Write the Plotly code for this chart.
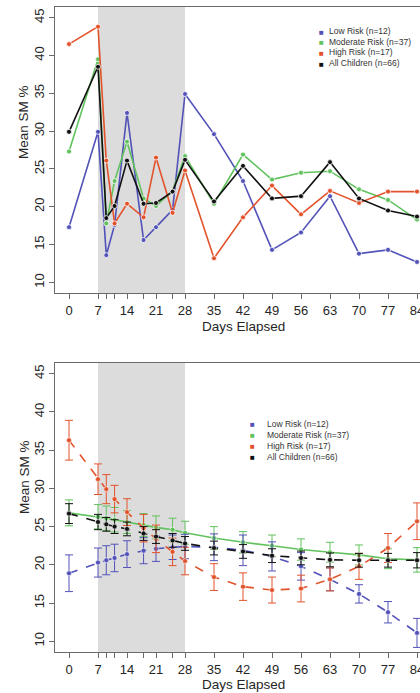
import plotly.graph_objects as go

# ---------------- data ----------------
days = [0, 7, 9, 11, 14, 18, 21, 25, 28, 35, 42, 49, 56, 63, 70, 77, 84]
tick_text = [str(d) if d % 7 == 0 else "" for d in days]
y_ticks = [10, 15, 20, 25, 30, 35, 40, 45]

series_names = ["Low Risk (n=12)", "Moderate Risk (n=37)", "High Risk (n=17)", "All Children (n=66)"]

# top panel: observed means
low_raw = [17.3, 29.9, 13.6, 17.6, 32.4, 15.6, 17.3, 19.6, 34.9, 29.6, 23.4, 14.3, 16.6, 21.4, 13.8, 14.3, 12.7]
mod_raw = [27.3, 39.5, 17.8, 23.4, 28.6, 21.1, 20.1, 22.1, 26.7, 20.4, 26.9, 23.6, 24.5, 24.7, 22.3, 20.9, 18.3]
high_raw = [41.5, 43.8, 26.1, 17.8, 20.4, 18.6, 26.5, 19.2, 24.8, 13.2, 18.6, 22.8, 19.0, 22.1, 20.5, 22.0, 22.0]
all_raw = [29.9, 38.5, 18.5, 20.1, 26.1, 20.4, 20.5, 22.0, 26.2, 20.7, 25.4, 21.1, 21.4, 25.9, 21.1, 19.5, 18.7]

# bottom panel: modelled means with error bars
low_fit = [18.9, 20.3, 20.6, 20.9, 21.4, 21.85, 22.1, 22.3, 22.4, 22.3, 21.9, 21.1, 19.8, 18.1, 16.2, 13.8, 11.1]
low_err = [2.4, 1.9, 1.9, 1.8, 1.75, 1.7, 1.65, 1.6, 1.6, 1.75, 2.0, 1.9, 1.8, 1.5, 1.2, 1.4, 1.9]
mod_fit = [26.8, 26.3, 26.1, 25.9, 25.6, 25.2, 24.9, 24.6, 24.2, 23.5, 22.95, 22.5, 22.0, 21.65, 21.3, 20.8, 20.65]
mod_err = [1.7, 1.6, 1.6, 1.6, 1.5, 1.5, 1.5, 1.5, 1.5, 1.5, 1.4, 1.4, 1.4, 1.3, 1.3, 1.3, 1.6]
high_fit = [36.3, 31.2, 29.9, 28.6, 26.9, 24.8, 23.4, 21.7, 20.5, 18.4, 17.15, 16.7, 16.9, 18.1, 19.8, 22.2, 25.7]
high_err = [2.6, 2.0, 1.9, 1.8, 1.75, 1.8, 1.8, 1.8, 1.8, 1.75, 1.8, 1.7, 1.75, 1.5, 1.7, 1.9, 2.4]
all_fit = [26.7, 25.6, 25.3, 25.0, 24.7, 24.1, 23.7, 23.2, 22.8, 22.2, 21.75, 21.2, 20.9, 20.65, 20.6, 20.6, 20.6]
all_err = [1.3, 1.0, 0.9, 0.9, 0.9, 0.9, 0.9, 0.9, 0.9, 0.9, 0.9, 0.9, 0.9, 0.9, 0.9, 0.9, 1.0]

colors = ["#5252b8", "#62c25e", "#e2532c", "#111111"]

# ---------------- layout geometry ----------------
W, H = 420, 693
ML, MT, MB = 55, 7, 41
PW, PH = W - ML, H - MT - MB


def pxx(x):
    return (x - ML) / PW


def pyy(y):
    return (H - MB - y) / PH


fig = go.Figure()

raw_sets = [low_raw, mod_raw, high_raw, all_raw]
for name, vals, col in zip(series_names, raw_sets, colors):
    fig.add_trace(go.Scatter(
        x=days, y=vals, mode="lines+markers", name=name, showlegend=False,
        line=dict(color=col, width=1.6),
        marker=dict(color=col, size=5, line=dict(color="white", width=0.8)),
        cliponaxis=False, xaxis="x", yaxis="y"))

fit_sets = [(mod_fit, mod_err, 1, "solid"), (low_fit, low_err, 0, "dash"),
            (high_fit, high_err, 2, "dash"), (all_fit, all_err, 3, "dash")]
for vals, err, idx, dash in fit_sets:
    col = colors[idx]
    fig.add_trace(go.Scatter(
        x=days, y=vals, mode="lines+markers", name=series_names[idx], showlegend=False,
        line=dict(color=col, width=1.6, dash=dash),
        marker=dict(color=col, size=5, line=dict(color="white", width=0.6)),
        error_y=dict(type="data", array=err, visible=True, color=col, thickness=1, width=4),
        cliponaxis=False, xaxis="x2", yaxis="y2"))

top_dom = [pyy(293), 1.0]
bot_dom = [0.0, pyy(363)]

axis_common = dict(
    showline=True, linecolor="#6a6a6a", linewidth=1.3, showgrid=False, zeroline=False,
    ticks="outside", ticklen=5, tickcolor="#6a6a6a", tickwidth=1, automargin=False,
    ticklabeloverflow="allow",
    tickfont=dict(family="Liberation Sans, Arial", size=13, color="#262626"),
)
xr = [-14 / 4.143, 84 + 3 / 4.143]
yr = [8.6, 46.4]

fig.update_layout(
    width=W, height=H, margin=dict(l=ML, r=0, t=MT, b=MB, autoexpand=False),
    paper_bgcolor="white", plot_bgcolor="white", showlegend=False,
    xaxis=dict(axis_common, domain=[0, 1], range=xr, tickvals=days, ticktext=tick_text,
               mirror=True, anchor="y"),
    yaxis=dict(axis_common, domain=top_dom, range=yr, tickvals=y_ticks, tickangle=-90, anchor="x"),
    xaxis2=dict(axis_common, domain=[0, 1], range=xr, tickvals=days, ticktext=tick_text,
                mirror=True, anchor="y2"),
    yaxis2=dict(axis_common, domain=bot_dom, range=yr, tickvals=y_ticks, tickangle=-90, anchor="x2"),
)

# shaded intervention period (day 7 to day 28)
for xref, yref in (("x", "y domain"), ("x2", "y2 domain")):
    fig.add_shape(type="rect", xref=xref, yref=yref, x0=7, x1=28, y0=0, y1=1,
                  fillcolor="#dcdcdc", line=dict(width=0), layer="below")

title_font = dict(family="Liberation Sans, Arial", size=13.5, color="#262626")
ann = []
# axis titles
for y_px in (326, 684):
    ann.append(dict(x=pxx(243), y=pyy(y_px), xref="paper", yref="paper", text="Days Elapsed",
                    showarrow=False, font=title_font, xanchor="center", yanchor="middle"))
for y_px in (122, 477):
    ann.append(dict(x=pxx(24), y=pyy(y_px), xref="paper", yref="paper", text="Mean SM %",
                    textangle=-90, showarrow=False, font=title_font, xanchor="center", yanchor="middle"))

# legends
leg_font = dict(family="Liberation Sans, Arial", size=8.5, color="#333333")
legend_specs = [((321, 326.5), [31, 42, 52.5, 63]), ((252, 265), [424, 435, 445.5, 456.5])]
for (sq_x, tx_x), rows in legend_specs:
    for name, col, ry in zip(series_names, colors, rows):
        ann.append(dict(x=pxx(sq_x), y=pyy(ry), xref="paper", yref="paper", text="■",
                        showarrow=False, font=dict(size=8, color=col), xanchor="center", yanchor="middle"))
        ann.append(dict(x=pxx(tx_x), y=pyy(ry), xref="paper", yref="paper", text=name,
                        showarrow=False, font=leg_font, xanchor="left", yanchor="middle"))

fig.update_layout(annotations=ann)
fig.write_html(
    "out.html",
    config={"displayModeBar": False},
    post_script="document.body.style.margin='0';document.body.style.overflow='hidden';",
)
